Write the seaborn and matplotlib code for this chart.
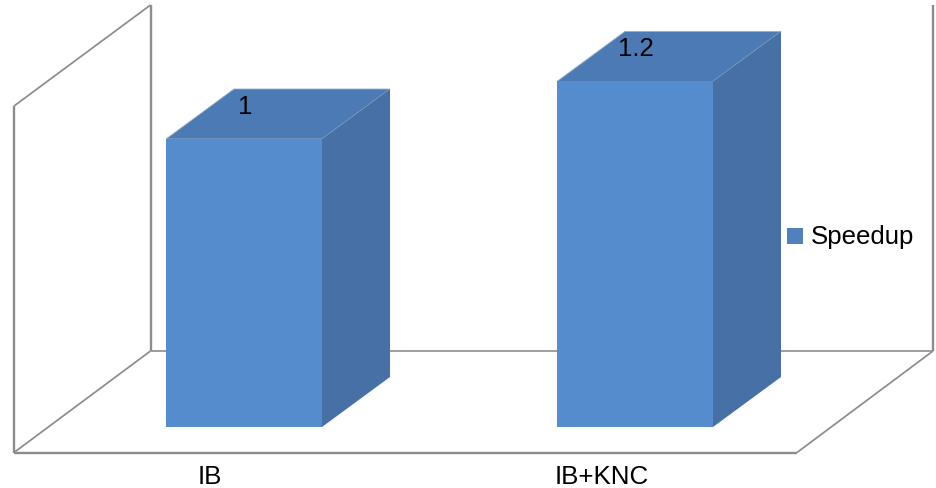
import matplotlib
matplotlib.use("Agg")
import matplotlib.pyplot as plt
from matplotlib.patches import Polygon, Rectangle
from matplotlib.transforms import Affine2D
import pandas as pd
import seaborn as sns

categories = ["IB", "IB+KNC"]
speedup = [1, 1.2]
value_labels = ["1", "1.2"]
series_name = "Speedup"

FRONT = "#558ccd"
TOP = "#4b7ab4"
SIDE = "#4771a6"
WALL = "#8c8c8c"
WIDTH, HEIGHT = 936, 488
FONT_SIZE = 18.6

sns.set_theme(style="white")
plt.rcParams["font.family"] = ["Liberation Sans", "DejaVu Sans"]

fig = plt.figure(figsize=(WIDTH / 100, HEIGHT / 100), dpi=100, facecolor="white")
ax = fig.add_axes([0, 0, 1, 1])

table = pd.DataFrame({"category": categories, "speedup": speedup})
sns.barplot(data=table, x="category", y="speedup", color=FRONT, saturation=1,
            width=156 / 391, edgecolor="none", zorder=3, ax=ax)

# Axes span the canvas: categories are 391 px apart, one speedup unit is 288 px
ax.set_xlim(-244 / 391, (WIDTH - 244) / 391)
ax.set_ylim(-(HEIGHT - 427) / 288, 427 / 288)
ax.axis("off")

# Screen space with y pointing down, for the box frame and the labels
screen = Affine2D().scale(1, -1).translate(0, HEIGHT) + Affine2D().scale(fig.dpi / 100)


def frame_line(xs, ys, lw=1.7, z=1):
    ax.plot(xs, ys, color=WALL, lw=lw, transform=screen, zorder=z,
            solid_joinstyle="miter", solid_capstyle="butt", clip_on=False)


# Side wall, back edges and floor of the 3-D box
frame_line([14, 14], [452.5, 106])
frame_line([14, 150.5], [106, 5], lw=1.25)
frame_line([150.5, 150.5], [5, 351])
frame_line([14, 150.5], [452.5, 351], lw=1.25)
frame_line([14, 797], [452.5, 452.5])
frame_line([797, 933], [452.5, 351], lw=1.25)
frame_line([150.5, 933], [351, 351], lw=1.2)
frame_line([933, 933], [351, 5])

# Extrude each bar backwards by a fixed screen offset
DEPTH_X, DEPTH_Y = 68, 50
for bar, label in zip(ax.patches, value_labels):
    (x0, y0), (x1, y1) = ax.transData.transform(
        [(bar.get_x(), 0), (bar.get_x() + bar.get_width(), bar.get_height())])
    y0, y1 = HEIGHT - y0, HEIGHT - y1
    top = [(x0, y1), (x1, y1), (x1 + DEPTH_X, y1 - DEPTH_Y), (x0 + DEPTH_X, y1 - DEPTH_Y)]
    side = [(x1, y0), (x1, y1), (x1 + DEPTH_X, y1 - DEPTH_Y), (x1 + DEPTH_X, y0 - DEPTH_Y)]
    ax.add_patch(Polygon(top, closed=True, fc=TOP, ec="#9fb0c6", lw=0.6,
                         transform=screen, zorder=2))
    ax.add_patch(Polygon(side, closed=True, fc=SIDE, ec="none", transform=screen, zorder=2))
    ax.text((x0 + x1) / 2 + 1, y1 - 32, label, ha="center", va="center", fontsize=FONT_SIZE,
            color="black", transform=screen, zorder=5)

# Category labels sit below the floor
for x_px, name in zip((210, 602), categories):
    ax.text(x_px, 477, name, ha="center", va="center", fontsize=FONT_SIZE,
            color="black", transform=screen)

# Legend swatch and series name
ax.add_patch(Rectangle((787, 227.5), 16, 16, fc="#4f81bd", ec="none", transform=screen))
ax.text(811, 237, series_name, ha="left", va="center", fontsize=FONT_SIZE,
        color="black", transform=screen)

fig.savefig("out.png", dpi=100, facecolor="white")
